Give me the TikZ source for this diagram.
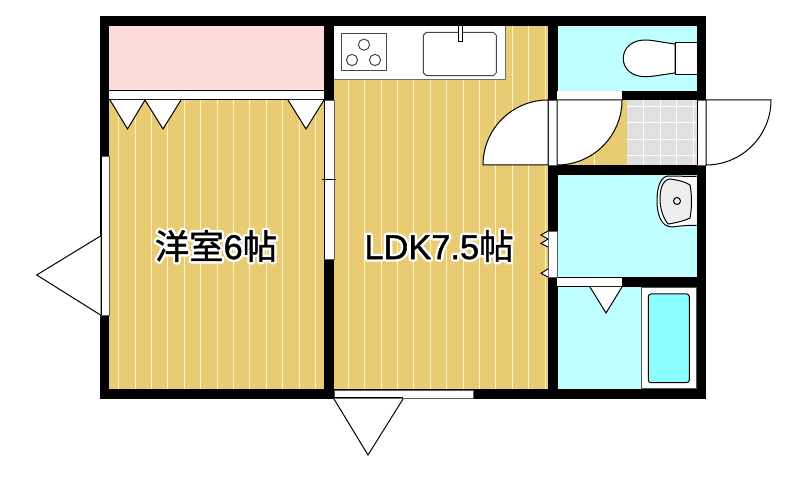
\documentclass[tikz,border=0pt]{standalone}
\usepackage{fontspec}
\setmainfont{Liberation Sans}
\newfontfamily\cjk{Noto Sans CJK JP}
% white rim under a label, slightly heavier black on top
\newcommand{\halotext}[1]{\leavevmode\rlap{\special{pdf:code q 1 Tr 1 1 1 RG 1 j 4 w}#1\special{pdf:code Q}}\special{pdf:code q 2 Tr 0 0 0 RG 1 j 0.3 w}#1\special{pdf:code Q}}
\tikzset{
        % looks of the plan, positions stay in the picture
        wall/.style={fill=black},
        wood/.style={fill={rgb, 255:red, 232; green, 203; blue, 114 }},
        grain/.style={color={rgb, 255:red, 255; green, 243; blue, 200 }, line width=0.75},
        wet/.style={fill={rgb, 255:red, 191; green, 255; blue, 255 }},
        fitting/.style={draw=black, fill=white, line width=0.75},
        opening/.style={fill=white, draw={rgb, 255:red, 90; green, 90; blue, 90 }, line width=0.6},
        roomlabel/.style={font=\fontsize{25.8}{30}\selectfont, inner sep=0pt},
}
\begin{document}
\begin{tikzpicture}[x=0.75pt,y=0.75pt,yscale=-1]
\useasboundingbox (0,0) rectangle (808,477);

%Shape: outer walls
\fill [wall] (100,16) rectangle (706,399);

%Shape: closet
\fill [fill={rgb, 255:red, 255; green, 220; blue, 220 }] (109,26) rectangle (324,91);
\fill [white] (109,91) rectangle (324,100);
\draw [line width=0.75] (109,91) -- (324,91);

%Shape: floors
\fill [wood] (109,100) rectangle (324,389);
\fill [wood] (334,26) rectangle (547.5,389);
\fill [wood] (557,100) rectangle (627,165);
\foreach \x in {0,...,12}
  \draw [grain] (118.7+16.4*\x,100) -- (118.7+16.4*\x,389);
\foreach \x in {0,...,12}
  \draw [grain] (348.3+16.4*\x,26) -- (348.3+16.4*\x,389);
\foreach \x in {13,14,15}
  \draw [grain] (348.3+16.4*\x,100) -- (348.3+16.4*\x,165);
\draw [line width=0.75] (109,100) -- (324,100);

%Shape: tiles
\fill [fill={rgb, 255:red, 224; green, 224; blue, 224 }] (627,100) rectangle (697,165);
\foreach \x in {643.7,660,676.7,693}
  \draw [white, line width=0.75] (\x,100) -- (\x,165);
\foreach \y in {106.3,122.7,139.3,155.7}
  \draw [white, line width=0.75] (627,\y) -- (697,\y);

%Shape: wet rooms
\fill [wet] (557.5,26) rectangle (697,91);
\fill [wet] (557.5,175) rectangle (697,277);
\fill [wet] (557.5,287) rectangle (641,389);

%Shape: windows and openings
\filldraw [opening] (101,156) rectangle (109,315);
\draw [line width=0.75] (101,156) -- (101,315);
\filldraw [opening] (324,100) rectangle (334,259);
\draw [line width=0.75] (324,100) -- (324,259);
\draw [line width=0.75] (321.5,179.5) -- (336,179.5);
\filldraw [opening] (334,390) rectangle (473,398);
\draw [line width=0.75] (334,398) -- (403,398);
\filldraw [opening] (548,231) rectangle (557,277);
\fill [white] (557,91) rectangle (622,100);
\fill [white] (557,278) rectangle (622,286);
\filldraw [opening] (548,100) rectangle (557,165);
\draw [line width=0.75] (557,100) -- (557,165);
\filldraw [opening] (697,100) rectangle (706,165);
\draw [line width=0.75] (697,100) -- (697,165);

%Shape: doors
\draw [fitting] (548,165) -- (483,165) arc (180:270:65) -- cycle;
\draw [fitting] (557,100) -- (622,100) arc (0:90:65) -- cycle;
\draw [fitting] (706,100) -- (771,100) arc (0:90:65) -- cycle;
\draw [fitting] (100.5,236) -- (36.7,275) -- (100.5,315);
\draw [fitting] (334,399) -- (368,455) -- (403,399);
\draw [fitting] (590,287) -- (606,313) -- (622,287);

%Shape: folding doors
\draw [fitting] (110,100) -- (127.5,129) -- (145,100);
\draw [fitting] (145,100) -- (163,129) -- (181,100);
\draw [fitting] (288,100) -- (306,129) -- (324,100);
\draw [fitting] (548,231) -- (541,235) -- (548,239);
\draw [fitting] (548,239) -- (541,243.5) -- (548,247);
\draw [fitting] (548,269) -- (541,273.3) -- (548,277);

%Shape: kitchen counter
\fill [white] (334,26) rectangle (505.5,80);
\draw [color={rgb, 255:red, 110; green, 110; blue, 110 }, line width=0.75] (334,80) -- (505.5,80) -- (505.5,26);
\draw [color={rgb, 255:red, 70; green, 70; blue, 70 }, line width=0.75] (341.7,34) rectangle (386.5,70.3);
\foreach \x/\y in {364/44.7,352/60,375/60}
  \draw [color={rgb, 255:red, 70; green, 70; blue, 70 }, line width=0.75] (\x,\y) circle [x radius=5.6, y radius=5.6];
\draw [color={rgb, 255:red, 70; green, 70; blue, 70 }, line width=0.75] (426.3,32.3) -- (493.3,32.3) -- (496.3,35.3) -- (496.3,72.7) -- (493.3,75.7) -- (426.3,75.7) -- (423.3,72.7) -- (423.3,35.3) -- cycle;
\draw [fitting] (458,26) rectangle (462,42);

%Shape: toilet
\draw [fitting] (675,44) .. controls (660,42) and (652,40) .. (645,40) .. controls (632,40) and (623.3,48) .. (623.3,58.5) .. controls (623.3,69) and (632,76.7) .. (645,76.7) .. controls (652,76.7) and (660,75) .. (675,73) -- cycle;
\draw [fitting] (697,42.3) -- (675,42.3) -- (675,74.7) -- (697,74.7);

%Shape: wash basin
\draw [fitting] (696.5,176.5) -- (668,176) .. controls (660,177) and (657,188) .. (657,201) .. controls (657,214) and (661,227) .. (672,227) .. controls (680,226) and (688,225) .. (696.5,225.5);
\draw [line width=0.75, fill={rgb, 255:red, 238; green, 238; blue, 238 }] (670,179) .. controls (678,180) and (686,182) .. (690,185) .. controls (692,195) and (692,208) .. (690,218) .. controls (684,221) and (675,223) .. (668,224) .. controls (663,218) and (660,208) .. (660,199) .. controls (660,190) and (662,180) .. (670,179) -- cycle;
\draw [line width=0.75] (677,201) circle [x radius=3.5, y radius=3.5];

%Shape: bath tub
\filldraw [fill=white, draw={rgb, 255:red, 70; green, 90; blue, 90 }, line width=0.75] (641,288) rectangle (696,389);
\fill [wall] (641,389) rectangle (697,399);
\draw [line width=0.75, rounded corners=2, fill={rgb, 255:red, 140; green, 255; blue, 255 }] (648.3,294) rectangle (689.3,382.7);

% Text Node
\node [roomlabel] (yoshitsu) at (216,246) {\halotext{{\cjk 洋室}6{\cjk 帖}}};
% Text Node
\node [roomlabel] (ldk) at (439,246) {\halotext{LDK7.5{\cjk 帖}}};

\end{tikzpicture}
\end{document}
